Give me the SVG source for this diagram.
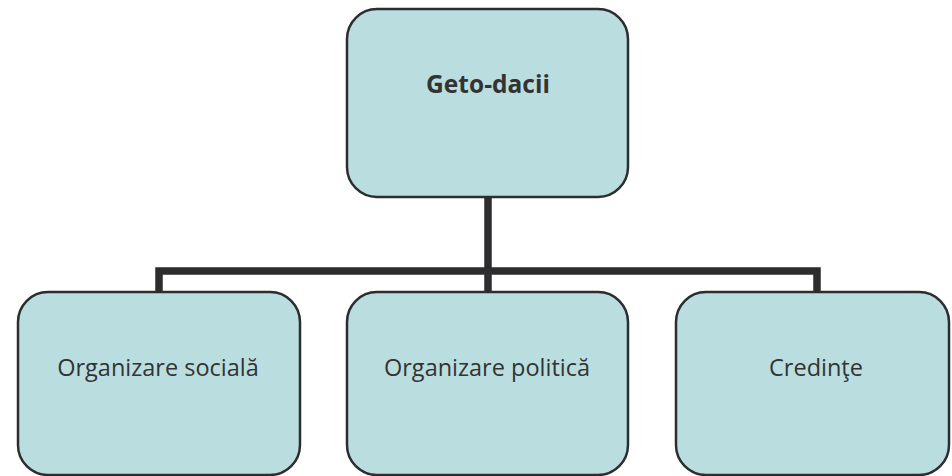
<svg xmlns="http://www.w3.org/2000/svg" width="952" height="476" viewBox="0 0 952 476">
<style>
.box{fill:#badee0;stroke:#2d2c2e;stroke-width:2.5}
.t{font-family:"Open Sans","Liberation Sans",sans-serif;font-size:23.5px;fill:#333;text-anchor:middle}
.b{font-weight:bold;font-size:24.5px}
.c{fill:none;stroke:#2d2c2e;stroke-width:7.5}
</style>
<rect width="952" height="476" fill="#fff"/>
<g id="connectors">
<path class="c" d="M488 197V271M159 291V271H817V291M488 271V291"/>
</g>
<g id="n0"><rect class="box" x="347" y="9" width="281" height="188" rx="30"/><text class="t b" x="488" y="93">Geto-dacii</text></g>
<g id="n1"><rect class="box" x="18" y="292" width="282" height="183" rx="30"/><text class="t" x="158" y="376">Organizare socială</text></g>
<g id="n2"><rect class="box" x="347" y="292" width="281" height="183" rx="30"/><text class="t" x="487" y="376">Organizare politică</text></g>
<g id="n3"><rect class="box" x="676" y="292" width="273" height="183" rx="30"/><text class="t" x="816" y="376">Credinţe</text></g>
</svg>
